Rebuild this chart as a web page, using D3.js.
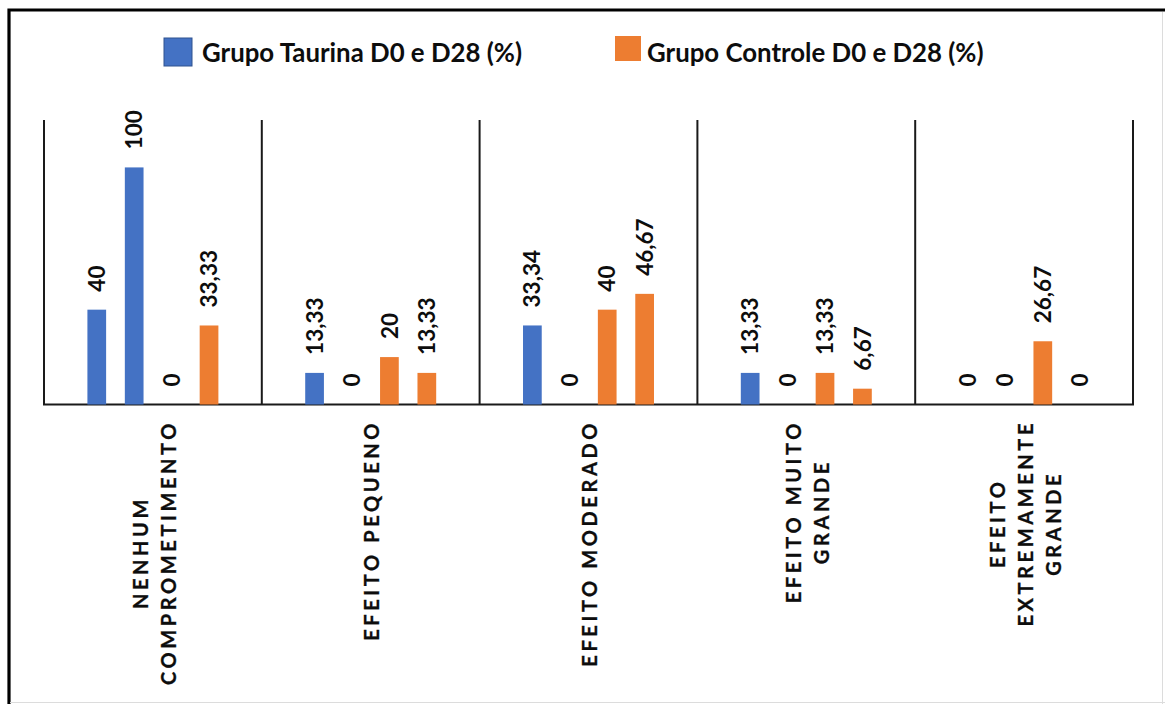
<!DOCTYPE html>
<html>
<head>
<meta charset="utf-8">
<script src="https://cdn.jsdelivr.net/npm/d3@7"></script>
<style>
  body { margin: 0; background: #fff; }
  svg { display: block; }
</style>
</head>
<body>
<svg id="chart" width="1165" height="704"></svg>
<script>
// Severity categories (each entry is the list of lines of its axis label)
const categoryLines = [
  ["NENHUM", "COMPROMETIMENTO"],
  ["EFEITO PEQUENO"],
  ["EFEITO MODERADO"],
  ["EFEITO MUITO", "GRANDE"],
  ["EFEITO", "EXTREMAMENTE", "GRANDE"]
];

// Percentages per category, D0 and D28 for each group
const taurinaD0   = [40, 13.33, 33.34, 13.33, 0];
const taurinaD28  = [100, 0, 0, 0, 0];
const controleD0  = [0, 20, 40, 13.33, 26.67];
const controleD28 = [33.33, 13.33, 46.67, 6.67, 0];

const seriesKeys   = ["taurinaD0", "taurinaD28", "controleD0", "controleD28"];
const seriesValues = [taurinaD0, taurinaD28, controleD0, controleD28];
const seriesGroup  = ["taurina", "taurina", "controle", "controle"];

const legendLabels = ["Grupo Taurina D0 e D28 (%)", "Grupo Controle D0 e D28 (%)"];
const yDomain = [0, 120];

const colors = { taurina: "#4472C4", controle: "#ED7D31" };

const svg = d3.select("#chart");
const categoryIds = categoryLines.map((_, i) => i);

const plot = { left: 44, right: 1133, top: 120, bottom: 404.5 };

const x0 = d3.scaleBand()
  .domain(categoryIds)
  .range([plot.left, plot.right])
  .padding(0);

const x1 = d3.scaleBand()
  .domain(seriesKeys)
  .range([0, x0.bandwidth()])
  .paddingInner(0.5)
  .paddingOuter(1.16);

const y = d3.scaleLinear()
  .domain(yDomain)
  .range([plot.bottom, plot.top]);

const fmt = v => String(v).replace(".", ",");

// Outer frame
svg.append("path")
  .attr("d", "M9,712 L9,10 L1172,10")
  .attr("fill", "none")
  .attr("stroke", "#000")
  .attr("stroke-width", 3.2);
svg.append("line")
  .attr("x1", 1162.5).attr("x2", 1162.5).attr("y1", 12).attr("y2", 704)
  .attr("stroke", "#dcdcdc").attr("stroke-width", 1);
svg.append("line")
  .attr("x1", 10).attr("x2", 1165).attr("y1", 702.5).attr("y2", 702.5)
  .attr("stroke", "#dcdcdc").attr("stroke-width", 1);

// Category divider lines and baseline
const boundaries = categoryIds.map(c => x0(c)).concat([x0.range()[1]]);
svg.append("g").selectAll("line")
  .data(boundaries)
  .join("line")
  .attr("x1", d => d).attr("x2", d => d)
  .attr("y1", y(yDomain[1])).attr("y2", y(0))
  .attr("stroke", "#1a1a1a")
  .attr("stroke-width", 2);

svg.append("line")
  .attr("x1", plot.left - 1).attr("x2", plot.right + 1)
  .attr("y1", y(0)).attr("y2", y(0))
  .attr("stroke", "#1a1a1a")
  .attr("stroke-width", 2.2);

// Bars and value labels
const rows = [];
categoryIds.forEach(c => {
  seriesKeys.forEach((k, si) => {
    rows.push({ c, key: k, group: seriesGroup[si], value: seriesValues[si][c] });
  });
});

const barG = svg.append("g");
barG.selectAll("rect")
  .data(rows.filter(d => d.value > 0))
  .join("rect")
  .attr("x", d => x0(d.c) + x1(d.key))
  .attr("y", d => y(d.value))
  .attr("width", x1.bandwidth())
  .attr("height", d => y(0) - y(d.value))
  .attr("fill", d => colors[d.group]);

svg.append("g").selectAll("text")
  .data(rows)
  .join("text")
  .attr("transform", d => `translate(${x0(d.c) + x1(d.key) + x1.bandwidth() / 2},${y(d.value) - 18}) rotate(-90)`)
  .attr("dy", "0.36em")
  .attr("text-anchor", "start")
  .attr("font-family", "Lato, 'Open Sans', sans-serif")
  .attr("font-weight", 700)
  .attr("font-size", 22.5)
  .attr("fill", "#0d0d0d")
  .text(d => fmt(d.value));

// Rotated category labels under the axis
const labelTop = 420;
const lineStep = 28;
categoryIds.forEach(c => {
  const lines = categoryLines[c];
  const g = svg.append("g")
    .attr("transform", `translate(${x0(c) + x0.bandwidth() / 2 + 1.5},${labelTop}) rotate(-90)`);
  const texts = g.selectAll("text")
    .data(lines)
    .join("text")
    .attr("text-anchor", "middle")
    .attr("font-family", "Lato, 'Open Sans', sans-serif")
    .attr("font-weight", 700)
    .attr("font-size", 20)
    .attr("letter-spacing", "3.6px")
    .attr("fill", "#0d0d0d")
    .attr("stroke", "#0d0d0d")
    .attr("stroke-width", 0.3)
    .attr("dy", "0.36em")
    .attr("y", (d, i) => (i - (lines.length - 1) / 2) * lineStep)
    .text(d => d);
  const maxLen = d3.max(texts.nodes(), n => n.getComputedTextLength());
  texts.attr("x", -maxLen / 2);
});

// Legend
const legendItems = [
  { label: legendLabels[0], color: colors.taurina, stroke: "#2F528F", sx: 164, sy: 38, sw: 28, sh: 28, tx: 202 },
  { label: legendLabels[1], color: colors.controle, stroke: "none", sx: 615, sy: 36, sw: 26, sh: 25, tx: 647 }
];
const legend = svg.append("g");
legend.selectAll("rect")
  .data(legendItems)
  .join("rect")
  .attr("x", d => d.sx).attr("y", d => d.sy)
  .attr("width", d => d.sw).attr("height", d => d.sh)
  .attr("fill", d => d.color)
  .attr("stroke", d => d.stroke)
  .attr("stroke-width", 1);
legend.selectAll("text")
  .data(legendItems)
  .join("text")
  .attr("x", d => d.tx)
  .attr("y", 62)
  .attr("font-family", "Lato, 'Open Sans', sans-serif")
  .attr("font-weight", 700)
  .attr("font-size", 25.8)
  .attr("fill", "#0d0d0d")
  .text(d => d.label);
</script>
</body>
</html>
